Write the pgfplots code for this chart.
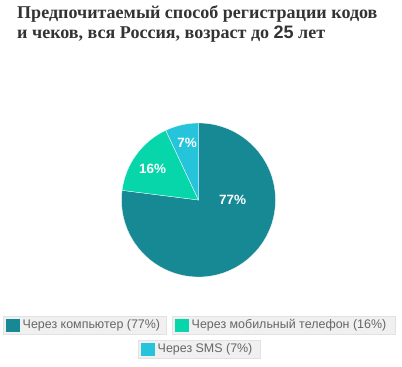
\documentclass[border=0pt]{standalone}
\usepackage{pgfplots}
\pgfplotsset{compat=1.18}
\usepackage{pgfplotstable}
\usepackage{fontspec}
\setmainfont{Liberation Sans}
\newfontfamily\serifbf{Liberation Serif}
\definecolor{cA}{RGB}{22,137,149}
\definecolor{cB}{RGB}{6,214,170}
\definecolor{cC}{RGB}{38,196,218}
\definecolor{titlegray}{RGB}{51,51,51}
\definecolor{legtext}{RGB}{102,102,102}
\definecolor{legbg}{RGB}{240,240,240}
\definecolor{legborder}{RGB}{226,226,226}
\pgfplotstableread{
idx value
0 77
1 16
2 7
}\piedata
\begin{document}
\begin{tikzpicture}[x=1bp,y=-1bp]
\path[use as bounding box] (0,0) rectangle (402,367);
\pgfplotstablegetelem{0}{value}\of\piedata \pgfmathsetmacro\va{\pgfplotsretval}
\pgfplotstablegetelem{1}{value}\of\piedata \pgfmathsetmacro\vb{\pgfplotsretval}
\pgfplotstablegetelem{2}{value}\of\piedata \pgfmathsetmacro\vc{\pgfplotsretval}
\pgfmathsetmacro\aA{90}
\pgfmathsetmacro\aB{90-3.6*\va}
\pgfmathsetmacro\aC{\aB-3.6*\vb}
\pgfmathsetmacro\aD{\aC-3.6*\vc}
% title
\node[anchor=base west, inner sep=0, text=titlegray, font=\serifbf\bfseries\fontsize{18.1}{20}\selectfont] at (17,18) {Предпочитаемый способ регистрации кодов};
\node[anchor=base west, inner sep=0, text=titlegray, font=\serifbf\bfseries\fontsize{18.1}{20}\selectfont] at (17,38) {и чеков, вся Россия, возраст до {\normalfont\bfseries 25} лет};
\begin{axis}[at={(198.5bp,-200bp)}, anchor=center, x=77bp, y=77bp, scale only axis,
  xmin=-1, xmax=1, ymin=-1, ymax=1, hide axis, clip=false]
\fill[cA, draw=white, line width=0.3bp] (axis cs:0,0) -- (axis cs:{cos(\aA)},{sin(\aA)}) arc[start angle=\aA, end angle=\aB, radius=77bp] -- cycle;
\fill[cB, draw=white, line width=0.3bp] (axis cs:0,0) -- (axis cs:{cos(\aB)},{sin(\aB)}) arc[start angle=\aB, end angle=\aC, radius=77bp] -- cycle;
\fill[cC, draw=white, line width=0.3bp] (axis cs:0,0) -- (axis cs:{cos(\aC)},{sin(\aC)}) arc[start angle=\aC, end angle=\aD, radius=77bp] -- cycle;
\node[text=white, font=\bfseries\fontsize{13.5}{15}\selectfont] at (axis cs:0.444,0) {77\%};
\node[text=white, font=\bfseries\fontsize{13.5}{15}\selectfont] at (axis cs:-0.597,0.403) {16\%};
\node[text=white, font=\bfseries\fontsize{13.5}{15}\selectfont] at (axis cs:-0.149,0.736) {7\%};
\end{axis}
% legend
\filldraw[fill=legbg, draw=legborder] (3,316.5) rectangle (166.5,334.5);
\fill[cA] (6,319) rectangle (19.5,332);
\node[anchor=west, inner sep=0, text=legtext, font=\fontsize{12.5}{14}\selectfont] at (22.5,325.5) {Через компьютер (77\%)};
\filldraw[fill=legbg, draw=legborder] (172.5,316.5) rectangle (395.5,334.5);
\fill[cB] (175,319) rectangle (188.5,332);
\node[anchor=west, inner sep=0, text=legtext, font=\fontsize{12.5}{14}\selectfont] at (191.5,325.5) {Через мобильный телефон (16\%)};
\filldraw[fill=legbg, draw=legborder] (138,340.5) rectangle (260.5,358.5);
\fill[cC] (141,343) rectangle (154.5,356);
\node[anchor=west, inner sep=0, text=legtext, font=\fontsize{12.5}{14}\selectfont] at (157.5,349.5) {Через SMS (7\%)};
\end{tikzpicture}
\end{document}
